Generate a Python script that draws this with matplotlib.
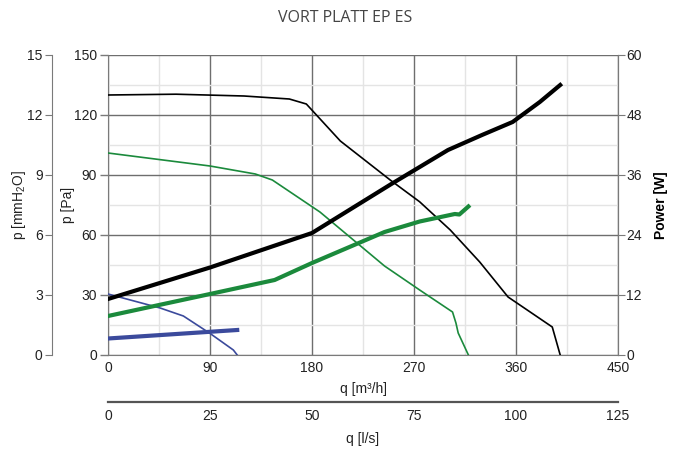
import matplotlib
matplotlib.use("Agg")
import matplotlib.pyplot as plt
from matplotlib.ticker import MultipleLocator, FixedLocator

plt.rcParams['font.family'] = ['Liberation Sans', 'DejaVu Sans']
plt.rcParams['mathtext.fontset'] = 'custom'
plt.rcParams['mathtext.rm'] = 'Liberation Sans'
plt.rcParams['mathtext.it'] = 'Liberation Sans'

title = "VORT PLATT EP ES"

# Pressure curves (q in m3/h, p in Pa)
black_p_q = [0, 60, 120, 160, 175, 205, 249, 275, 302, 328, 353, 392, 399]
black_p = [130, 130.4, 129.5, 128, 125.5, 107, 87.5, 76.6, 62.5, 46.5, 29, 14, 0]
green_p_q = [0, 90, 130, 145, 187, 244, 275, 304, 307, 309, 318]
green_p = [101, 94.5, 90.5, 87.5, 71.5, 44.5, 32.5, 21.5, 16, 11, 0]
blue_p_q = [0, 46, 66.5, 90, 110.6, 114]
blue_p = [30.5, 23.5, 19.5, 10.8, 2.5, 0]

# Power curves (q in m3/h, W)
black_w_q = [0, 90, 180, 250, 300, 330, 357, 381, 399]
black_w = [11.2, 17.5, 24.4, 34.2, 41, 44, 46.6, 50.6, 54]
green_w_q = [0, 90, 147, 180, 244, 275, 306, 310, 318]
green_w = [7.8, 12.2, 15, 18.4, 24.6, 26.7, 28.2, 28.1, 29.7]
blue_w_q = [0, 114]
blue_w = [3.3, 5.0]

q_ticks = [0, 90, 180, 270, 360, 450]
pa_ticks = [0, 30, 60, 90, 120, 150]
w_ticks = [0, 12, 24, 36, 48, 60]
mm_ticks = [0, 3, 6, 9, 12, 15]
ls_ticks = [0, 25, 50, 75, 100, 125]

BLACK = "#000000"
GREEN = "#1b8a3c"
BLUE = "#3b4a9c"
SPINE = "#7a7a7a"
MAJOR = "#6e6e6e"
MINOR = "#e4e4e4"
TXT = "#222222"
FS = 10

fig = plt.figure(figsize=(6.81, 4.5), dpi=100)
pos = [108/681, 95/450, 510/681, 300/450]
ax = fig.add_axes(pos)
ax.set_xlim(0, 450)
ax.set_ylim(0, 150)
ax.set_xticks(q_ticks)
ax.set_yticks(pa_ticks)
ax.xaxis.set_minor_locator(MultipleLocator(45))
ax.yaxis.set_minor_locator(MultipleLocator(15))
ax.grid(which='major', color=MAJOR, lw=1.0, zorder=0)
ax.grid(which='minor', color=MINOR, lw=1.0, zorder=0)
ax.tick_params(which='minor', length=0)
ax.tick_params(axis='y', which='major', labelsize=FS, colors=SPINE, labelcolor=TXT, length=6, width=1, pad=2)
ax.tick_params(axis='x', which='major', labelsize=FS, colors=SPINE, labelcolor=TXT, length=0, pad=4)
ax.spines['top'].set_visible(False)
for s in ['left', 'bottom', 'right']:
    ax.spines[s].set_color(SPINE)
ax.set_xlabel("q [m³/h]", fontsize=FS, color=TXT, labelpad=5)

ax.plot(black_p_q, black_p, color=BLACK, lw=1.2, zorder=5)
ax.plot(green_p_q, green_p, color=GREEN, lw=1.2, zorder=5)
ax.plot(blue_p_q, blue_p, color=BLUE, lw=1.2, zorder=5)

axw = ax.twinx()
axw.set_ylim(0, 60)
axw.set_yticks(w_ticks)
axw.tick_params(labelsize=FS, colors=SPINE, labelcolor=TXT, length=5, pad=1)
for s in axw.spines.values():
    s.set_visible(False)
axw.spines['right'].set_visible(True)
axw.spines['right'].set_color(SPINE)
axw.plot(black_w_q, black_w, color=BLACK, lw=3.0, zorder=5)
axw.plot(green_w_q, green_w, color=GREEN, lw=3.0, zorder=5)
axw.plot(blue_w_q, blue_w, color=BLUE, lw=3.0, zorder=5)

# Secondary pressure axis (mmH2O)
axm = fig.add_axes(pos)
axm.patch.set_visible(False)
axm.set_ylim(0, 15)
axm.set_yticks(mm_ticks)
axm.set_xticks([])
axm.spines['left'].set_position(('outward', 40))
axm.spines['left'].set_color(SPINE)
for s in ['right', 'top', 'bottom']:
    axm.spines[s].set_visible(False)
axm.tick_params(labelsize=FS, colors=SPINE, labelcolor=TXT, length=5, pad=2)

# Secondary flow axis (l/s)
axl = fig.add_axes(pos)
axl.patch.set_visible(False)
axl.set_xlim(0, 125)
axl.set_xticks(ls_ticks)
axl.xaxis.set_minor_locator(FixedLocator([0, 125]))
axl.set_yticks([])
axl.spines['bottom'].set_position(('outward', 34))
axl.spines['bottom'].set_color("#555555")
axl.spines['bottom'].set_linewidth(1.6)
for s in ['right', 'top', 'left']:
    axl.spines[s].set_visible(False)
axl.tick_params(which='major', labelsize=FS, colors=SPINE, labelcolor=TXT, length=0, pad=5)
axl.tick_params(which='minor', colors="#555555", length=4, width=1.2)
axl.set_xlabel("q [l/s]", fontsize=FS, color=TXT, labelpad=6)

# axis titles
fig.text(19/681, 1 - 205/450, "p [mmH$_2$O]", rotation=90, ha='center', va='center', fontsize=FS, color=TXT)
fig.text(68/681, 1 - 205/450, "p [Pa]", rotation=90, ha='center', va='center', fontsize=FS, color=TXT)
fig.text(661/681, 1 - 205/450, "Power [W]", rotation=90, ha='center', va='center', fontsize=FS,
         fontweight='bold', color="#000000")

fig.text(345/681, 1 - 18/450, title, ha='center', va='center', fontsize=11.5,
         color="#444444", family=['Open Sans', 'DejaVu Sans'])

fig.savefig("out.png", dpi=100)
